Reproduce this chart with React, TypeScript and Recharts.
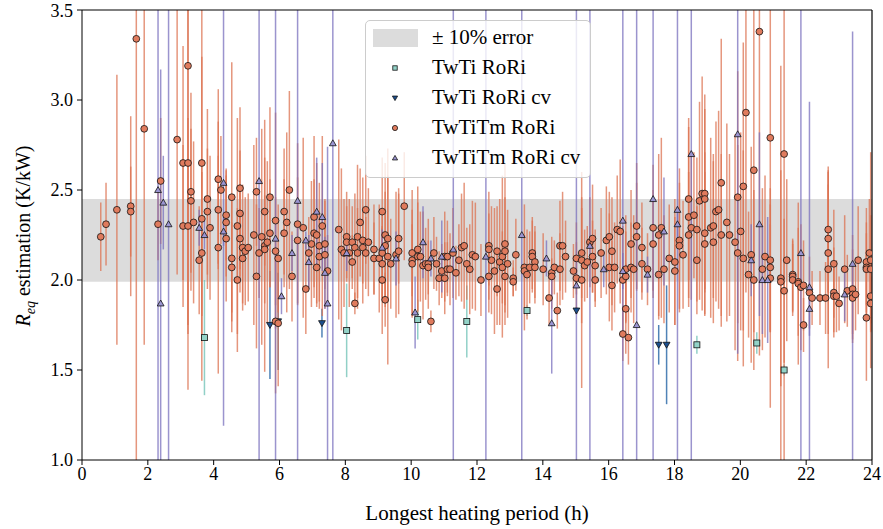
import {
  ScatterChart,
  Scatter,
  XAxis,
  YAxis,
  ErrorBar,
  ReferenceArea,
  ReferenceLine,
} from "recharts";

// [longest heating period (h), Req estimate (K/kW), error]
type Pt = [number, number, number];

const X_TICKS = [0, 2, 4, 6, 8, 10, 12, 14, 16, 18, 20, 22, 24];
const Y_TICKS = [1.0, 1.5, 2.0, 2.5, 3.0, 3.5];
const BAND = [1.99, 2.45];

const twtiRori: Pt[] = [
  [3.72, 1.68, 0.32], [8.04, 1.72, 0.26], [10.2, 1.78, 0.11], [11.69, 1.77, 0.2],
  [13.52, 1.83, 0.03], [18.68, 1.64, 0.05], [20.5, 1.65, 0.06], [21.33, 1.5, 0.03],
];

const twtiRoriCv: Pt[] = [
  [5.71, 1.75, 0.3], [5.96, 1.77, 0.27], [7.29, 1.76, 0.08], [15.02, 1.83, 0.02],
  [17.52, 1.64, 0.11], [17.76, 1.64, 0.33],
];

const twtitmRori: Pt[] = [
  [0.57, 2.24, 0.19], [0.73, 2.31, 0.23], [1.06, 2.39, 0.75], [1.48, 2.41, 0.5],
  [1.48, 2.38, 0.25], [1.65, 3.34, 2.4], [1.89, 2.84, 1.2], [2.31, 2.31, 0.2],
  [2.39, 2.55, 0.35], [2.89, 2.78, 0.75],
  [3.07, 2.65, 0.65], [3.07, 2.3, 0.45], [3.22, 3.19, 1.8], [3.22, 2.65, 0.9],
  [3.22, 2.3, 0.6], [3.31, 2.49, 0.55], [3.31, 2.44, 0.4], [3.39, 2.32, 0.45],
  [3.56, 2.11, 0.3], [3.64, 2.65, 0.85], [3.64, 2.34, 0.9], [3.64, 2.15, 0.45],
  [3.81, 2.45, 0.5], [3.81, 2.38, 0.35], [3.89, 2.29, 0.4], [4.14, 2.56, 0.5],
  [4.14, 2.39, 0.3], [4.14, 2.18, 0.7], [4.22, 2.5, 0.3], [4.38, 2.36, 0.25],
  [4.38, 2.32, 0.3], [4.38, 2.23, 0.35], [4.55, 2.46, 0.75], [4.55, 2.12, 0.35],
  [4.55, 2.07, 0.25], [4.72, 2.3, 0.6], [4.72, 2.0, 0.4], [4.8, 2.51, 0.45],
  [4.8, 2.37, 0.35], [4.8, 2.23, 0.3], [4.88, 2.18, 0.35], [4.88, 2.12, 0.25],
  [4.96, 2.16, 0.3], [5.05, 2.18, 0.3], [5.22, 2.25, 0.5], [5.3, 2.49, 0.3],
  [5.3, 2.02, 0.4], [5.38, 2.15, 0.25], [5.46, 2.24, 0.6], [5.55, 2.19, 0.7],
  [5.55, 2.17, 0.3], [5.55, 2.38, 0.3], [5.63, 2.21, 0.45], [5.71, 2.46, 0.5],
  [5.71, 2.26, 0.3], [5.88, 2.33, 0.6], [5.88, 2.16, 0.3], [5.88, 1.77, 0.4],
  [5.96, 2.12, 0.3], [5.96, 1.76, 0.35],
  [6.14, 2.38, 0.35], [6.14, 2.26, 0.3], [6.22, 2.32, 0.5], [6.3, 2.5, 0.55],
  [6.38, 2.02, 0.25], [6.55, 2.31, 0.45], [6.55, 2.22, 0.35], [6.72, 2.29, 0.5],
  [6.8, 1.95, 0.25], [6.89, 2.15, 0.2], [6.97, 2.2, 0.35], [7.05, 2.35, 0.45],
  [7.05, 2.26, 0.3], [7.13, 2.25, 0.4], [7.13, 2.07, 0.2], [7.21, 2.19, 0.35],
  [7.21, 2.13, 0.25], [7.3, 2.3, 0.5], [7.38, 2.2, 0.25], [7.38, 2.14, 0.3],
  [7.46, 2.05, 0.2], [7.8, 2.28, 0.5], [7.88, 2.17, 0.45], [7.96, 2.15, 0.3],
  [8.04, 2.24, 0.25], [8.04, 2.21, 0.2], [8.12, 2.15, 0.3], [8.21, 2.21, 0.2],
  [8.21, 2.1, 0.15], [8.29, 2.18, 0.3], [8.29, 1.87, 0.06], [8.37, 2.24, 0.4],
  [8.37, 2.15, 0.25], [8.45, 2.32, 0.3], [8.53, 2.22, 0.35], [8.53, 2.18, 0.2],
  [8.62, 2.39, 0.3], [8.62, 2.15, 0.2], [8.7, 2.21, 0.3], [8.87, 2.17, 0.25],
  [8.87, 2.12, 0.2], [9.03, 2.12, 0.3],
  [9.12, 2.38, 0.3], [9.12, 2.15, 0.25], [9.12, 2.09, 0.2], [9.12, 2.0, 0.3],
  [9.21, 2.25, 0.4], [9.21, 2.19, 0.3], [9.21, 1.89, 0.15], [9.29, 2.23, 0.35],
  [9.29, 2.13, 0.6], [9.38, 2.09, 0.25], [9.54, 2.14, 0.35], [9.62, 2.23, 0.25],
  [9.62, 2.16, 0.35], [9.79, 2.41, 0.3], [10.03, 2.15, 0.35], [10.03, 2.11, 0.2],
  [10.03, 2.09, 0.3], [10.2, 2.17, 0.35], [10.2, 2.13, 0.3], [10.28, 2.13, 0.25],
  [10.36, 2.08, 0.3], [10.44, 2.09, 0.2], [10.52, 2.09, 0.25], [10.52, 2.07, 0.15],
  [10.6, 1.77, 0.06], [10.69, 2.15, 0.2], [10.77, 2.09, 0.15], [10.85, 2.01, 0.15],
  [10.93, 2.05, 0.15], [11.02, 2.01, 0.2], [11.02, 2.13, 0.25], [11.1, 2.13, 0.2],
  [11.1, 2.06, 0.15], [11.18, 2.06, 0.2], [11.27, 2.15, 0.25], [11.36, 2.04, 0.15],
  [11.45, 2.11, 0.2], [11.53, 2.18, 0.3], [11.61, 2.19, 0.35], [11.69, 2.09, 0.2],
  [11.78, 2.06, 0.25], [11.86, 2.14, 0.3], [11.95, 2.13, 0.3],
  [12.12, 2.0, 0.2], [12.36, 2.19, 0.3], [12.36, 2.17, 0.2], [12.36, 2.02, 0.2],
  [12.44, 2.11, 0.3], [12.53, 2.05, 0.35], [12.61, 2.16, 0.25], [12.61, 1.95, 0.2],
  [12.69, 2.1, 0.35], [12.77, 2.13, 0.45], [12.77, 2.07, 0.2], [12.85, 2.2, 0.45],
  [12.85, 2.16, 0.3], [12.85, 2.02, 0.2], [12.93, 2.09, 0.3], [13.1, 2.01, 0.1],
  [13.1, 1.99, 0.08], [13.18, 2.14, 0.2], [13.44, 2.07, 0.35], [13.44, 2.05, 0.2],
  [13.52, 2.03, 0.25], [13.6, 2.07, 0.2], [13.68, 2.15, 0.2], [13.68, 2.13, 0.2],
  [13.76, 2.1, 0.2], [13.76, 2.07, 0.2], [14.01, 2.06, 0.2], [14.19, 1.9, 0.15],
  [14.27, 2.04, 0.2], [14.27, 2.02, 0.1], [14.35, 2.07, 0.15], [14.44, 1.83, 0.1],
  [14.52, 2.19, 0.25], [14.6, 2.19, 0.3], [14.52, 2.06, 0.2], [14.69, 2.13, 0.2],
  [14.93, 2.05, 0.15], [15.02, 2.12, 0.2], [15.02, 2.01, 0.2],
  [15.18, 2.15, 0.25], [15.18, 2.11, 0.35], [15.18, 2.0, 0.6], [15.27, 2.08, 0.2],
  [15.35, 2.1, 0.2], [15.43, 2.21, 0.25], [15.51, 2.23, 0.3], [15.51, 2.13, 0.2],
  [15.59, 2.08, 0.2], [15.59, 2.0, 0.15], [15.77, 2.15, 0.25], [15.93, 2.22, 0.3],
  [16.02, 2.24, 0.25], [16.02, 2.07, 0.3], [16.1, 2.16, 0.3], [16.1, 1.97, 0.25],
  [16.18, 2.07, 0.25], [16.26, 2.28, 0.3], [16.35, 2.27, 0.4], [16.43, 2.0, 0.3],
  [16.43, 1.7, 0.15], [16.52, 2.06, 0.3], [16.52, 1.84, 0.25], [16.52, 2.02, 0.25],
  [16.6, 1.68, 0.15], [16.68, 2.2, 0.3], [16.68, 2.07, 0.25], [16.76, 2.06, 0.3],
  [16.85, 2.3, 0.35], [16.85, 2.24, 0.3], [17.01, 2.18, 0.25], [17.01, 2.09, 0.2],
  [17.18, 2.06, 0.2], [17.35, 2.29, 0.35], [17.35, 2.2, 0.3], [17.52, 2.03, 0.25],
  [17.52, 2.25, 0.45], [17.6, 2.29, 0.5], [17.68, 2.06, 0.3], [17.84, 2.12, 0.3],
  [18.01, 2.1, 0.35], [18.01, 2.05, 0.3], [18.15, 2.22, 0.4], [18.15, 2.19, 0.35],
  [18.26, 2.14, 0.3], [18.43, 2.45, 0.45], [18.43, 2.35, 0.5], [18.43, 2.25, 0.35],
  [18.51, 2.29, 0.4], [18.59, 2.36, 0.35], [18.68, 2.28, 0.4], [18.68, 2.11, 0.3],
  [18.76, 2.44, 0.55], [18.84, 2.48, 0.65], [18.92, 2.48, 0.55], [18.92, 2.45, 0.5],
  [18.92, 2.26, 0.45], [18.92, 2.2, 0.4], [19.1, 2.29, 0.5], [19.18, 2.3, 0.4],
  [19.18, 2.21, 0.45], [19.26, 2.38, 0.5], [19.34, 2.39, 0.55], [19.42, 2.54, 0.8],
  [19.42, 2.25, 0.45], [19.59, 2.32, 0.55], [19.67, 2.25, 0.45], [19.84, 2.21, 0.6],
  [19.92, 2.46, 0.7], [19.92, 2.15, 0.6], [20.01, 2.27, 0.55], [20.09, 2.52, 0.8],
  [20.09, 2.12, 0.6], [20.17, 2.93, 1.0], [20.25, 2.03, 0.35], [20.33, 2.14, 0.6],
  [20.41, 2.61, 0.9], [20.41, 2.0, 0.5], [20.58, 3.38, 1.8], [20.75, 2.13, 0.45],
  [20.67, 2.06, 0.45], [20.91, 2.79, 1.5], [20.91, 2.11, 0.4], [20.91, 2.07, 0.35],
  [20.91, 2.01, 0.3],
  [21.23, 2.01, 0.6], [21.23, 1.99, 1.2], [21.33, 2.7, 2.0], [21.33, 1.94, 0.4],
  [21.41, 2.11, 0.45], [21.59, 2.03, 0.2], [21.59, 2.02, 0.2], [21.59, 2.0, 0.2],
  [21.76, 1.99, 0.3], [21.76, 1.98, 0.45], [21.84, 1.96, 0.35], [21.92, 1.97, 0.25],
  [21.92, 1.75, 0.15], [22.1, 1.93, 0.2], [22.18, 1.9, 0.15], [22.42, 1.9, 0.15],
  [22.59, 1.9, 0.2], [22.67, 2.28, 0.35], [22.67, 2.23, 0.3], [22.67, 2.15, 0.45],
  [22.67, 2.06, 0.55], [22.84, 2.09, 0.3], [22.84, 1.93, 0.25], [22.84, 1.91, 0.2],
  [22.92, 1.91, 0.2], [23.0, 1.87, 0.15], [23.17, 2.06, 0.3], [23.25, 1.94, 0.2],
  [23.41, 1.95, 0.3], [23.41, 1.92, 0.25], [23.41, 1.9, 0.2], [23.5, 1.92, 0.2],
  [23.58, 2.11, 0.3], [23.83, 2.1, 0.3], [23.83, 2.07, 0.25], [23.83, 2.06, 0.2],
  [23.83, 1.79, 0.35], [23.92, 2.15, 0.3], [23.96, 2.11, 0.6], [23.96, 2.06, 0.3],
  [23.96, 1.91, 0.2], [23.96, 1.87, 0.15],
];

const twtitmRoriCv: Pt[] = [
  [2.31, 2.5, 2.5], [2.39, 1.87, 1.3], [2.47, 2.43, 0.26], [2.63, 2.31, 2.5],
  [3.56, 2.29, 0.1], [3.72, 2.25, 0.08], [4.3, 2.54, 1.35], [4.3, 2.27, 0.08],
  [5.38, 2.55, 2.5], [5.88, 2.23, 2.5], [6.06, 1.91, 0.1], [6.38, 2.15, 0.1],
  [6.55, 2.44, 2.5], [6.8, 2.22, 0.05], [6.89, 2.1, 0.15], [7.13, 2.38, 0.3],
  [7.3, 2.35, 0.3], [7.38, 2.04, 0.2], [7.46, 1.87, 0.87], [7.62, 2.76, 2.5],
  [8.04, 2.15, 0.1], [9.12, 2.18, 0.1], [9.54, 2.12, 0.15], [10.12, 1.82, 0.2],
  [10.36, 2.21, 0.2], [10.6, 2.12, 0.1], [10.93, 2.13, 0.2], [11.28, 2.17, 2.5],
  [12.27, 2.13, 2.5], [13.36, 2.25, 2.5], [14.11, 2.12, 0.1], [14.27, 1.76, 0.28],
  [15.02, 1.97, 2.5], [15.43, 2.19, 2.5], [15.85, 2.06, 0.1], [16.43, 2.33, 2.5],
  [16.43, 2.05, 0.1], [16.85, 1.75, 2.5], [17.18, 2.03, 0.1], [17.35, 2.45, 2.5],
  [17.68, 2.27, 0.3], [18.09, 2.39, 2.5], [18.09, 2.31, 0.1], [18.51, 2.7, 2.5],
  [19.92, 2.81, 1.22], [20.33, 2.11, 0.2], [20.58, 2.31, 0.51], [20.67, 2.0, 0.3],
  [20.83, 2.0, 0.35], [21.84, 2.15, 2.5], [22.1, 1.96, 1.03], [22.1, 1.84, 0.15],
  [23.17, 1.92, 0.15], [23.41, 2.09, 1.29],
];

const FONT = "'Liberation Serif', 'DejaVu Serif', serif";

const SERIES = [
  { key: "twti", name: "TwTi RoRi", data: twtiRori, bar: "#6cc0b4", fill: "#93d3c8", marker: "square" },
  { key: "twticv", name: "TwTi RoRi cv", data: twtiRoriCv, bar: "#15599f", fill: "#1b4f8f", marker: "down" },
  { key: "tm", name: "TwTiTm RoRi", data: twtitmRori, bar: "#dc7352", fill: "#e07b5d", marker: "circle" },
  { key: "tmcv", name: "TwTiTm RoRi cv", data: twtitmRoriCv, bar: "#7a70bd", fill: "#9b95d2", marker: "up" },
];

const toRows = (pts: Pt[]) => pts.map(([x, y, err]) => ({ x, y, err }));

const Marker = ({ kind, cx, cy, fill, s = 3.4 }: any) => {
  const edge = { stroke: "#111", strokeWidth: 0.8, fill };
  if (kind === "square") return <rect x={cx - s + 0.4} y={cy - s + 0.4} width={2 * s - 0.8} height={2 * s - 0.8} {...edge} />;
  if (kind === "circle") return <circle cx={cx} cy={cy} r={s} {...edge} />;
  if (kind === "up")
    return <polygon points={`${cx},${cy - s} ${cx - s},${cy + s * 0.75} ${cx + s},${cy + s * 0.75}`} {...edge} />;
  return <polygon points={`${cx},${cy + s} ${cx - s},${cy - s * 0.75} ${cx + s},${cy - s * 0.75}`} {...edge} />;
};

const LegendBox = () => (
  <div
    style={{
      position: "absolute",
      left: 365,
      top: 20,
      width: 226,
      height: 158,
      border: "1px solid #cccccc",
      borderRadius: 5,
      background: "rgba(255,255,255,0.8)",
      fontFamily: FONT,
      fontSize: 21,
      color: "#000",
      boxSizing: "border-box",
    }}
  >
    <div style={{ position: "absolute", left: 7, top: 8, width: 45, height: 18, background: "#dcdcdc" }} />
    <div style={{ position: "absolute", left: 66, top: 5, lineHeight: "22px" }}>± 10% error</div>
    {SERIES.map((s, i) => (
      <div key={s.key}>
        <svg style={{ position: "absolute", left: 22, top: 40 + i * 30 }} width={14} height={14}>
          <Marker kind={s.marker} cx={7} cy={7} fill={s.fill} s={2.6} />
        </svg>
        <div style={{ position: "absolute", left: 66, top: 35 + i * 30, lineHeight: "22px" }}>{s.name}</div>
      </div>
    ))}
  </div>
);

const YLabel = () => (
  <text x={30} y={236} transform="rotate(-90 30 236)" textAnchor="middle" fontFamily={FONT} fontSize={20} fill="#000">
    <tspan fontStyle="italic">R</tspan>
    <tspan fontStyle="italic" fontSize={14} dy={5}>eq</tspan>
    <tspan dy={-5}> estimation (K/kW)</tspan>
  </text>
);

// clip the error bars to the plot frame, like matplotlib does
const PlotClip = () => (
  <svg width={0} height={0} style={{ position: "absolute" }}>
    <defs>
      <clipPath id="plot-frame" clipPathUnits="userSpaceOnUse">
        <rect x={82} y={10} width={790} height={450} />
      </clipPath>
    </defs>
  </svg>
);

const App = () => {
  const tick = { fill: "#000", fontSize: 18, fontFamily: FONT };
  return (
    <div style={{ position: "absolute", left: 0, top: 0, width: 883, height: 529, background: "#fff" }}>
      <style>{`.recharts-errorBars, .err-layer { clip-path: url(#plot-frame); }`}</style>
      <PlotClip />
      <ScatterChart width={883} height={529} margin={{ top: 10, right: 11, bottom: 0, left: 0 }}>
        <XAxis
          type="number"
          dataKey="x"
          domain={[0, 24]}
          ticks={X_TICKS}
          allowDataOverflow
          height={69}
          tick={tick}
          tickSize={5}
          tickMargin={2}
          stroke="#000"
          label={{ value: "Longest heating period (h)", position: "insideBottom", offset: 9, fill: "#000", fontSize: 21, fontFamily: FONT }}
        />
        <YAxis
          type="number"
          dataKey="y"
          domain={[1, 3.5]}
          ticks={Y_TICKS}
          allowDataOverflow
          width={82}
          tick={tick}
          tickSize={5}
          tickMargin={4}
          stroke="#000"
          tickFormatter={(v: number) => v.toFixed(1)}
          label={{ content: () => <YLabel /> }}
        />
        <ReferenceArea y1={BAND[0]} y2={BAND[1]} fill="#dcdcdc" fillOpacity={1} stroke="none" />
        {SERIES.map((s) => (
          <Scatter
            key={s.key + "-err"}
            className="err-layer"
            data={toRows(s.data)}
            isAnimationActive={false}
            shape={() => <g />}
            legendType="none"
          >
            <ErrorBar dataKey="err" direction="y" width={0} stroke={s.bar} strokeWidth={1.5} strokeOpacity={0.75} isAnimationActive={false} />
          </Scatter>
        ))}
        {SERIES.map((s) => (
          <Scatter
            key={s.key}
            name={s.name}
            data={toRows(s.data)}
            isAnimationActive={false}
            shape={(p: any) => <Marker kind={s.marker} cx={p.cx} cy={p.cy} fill={s.fill} />}
          />
        ))}
        <ReferenceLine y={3.5} stroke="#000" strokeWidth={1.2} />
        <ReferenceLine x={24} stroke="#000" strokeWidth={1.2} />
      </ScatterChart>
      <LegendBox />
    </div>
  );
};

export default App;
